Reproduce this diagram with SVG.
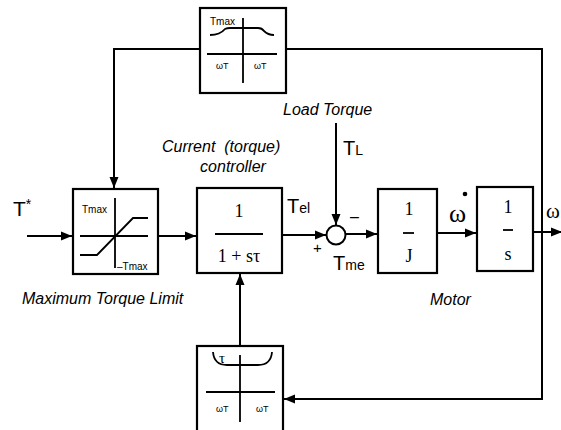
<svg xmlns="http://www.w3.org/2000/svg" width="561" height="430" viewBox="0 0 561 430">
<defs>
<marker id="ah" markerUnits="userSpaceOnUse" markerWidth="12" markerHeight="10" refX="11" refY="5" orient="auto">
<path d="M0,0.5 L11,5 L0,9.5 Z" fill="#000"/>
</marker>
<style>
.box{fill:#fff;stroke:#000;stroke-width:2.2}
.ln{fill:none;stroke:#000;stroke-width:2}
.thin{fill:none;stroke:#000;stroke-width:1.8}
.lbl{font-family:"Liberation Sans",Arial,sans-serif;font-style:italic;font-size:16px;fill:#000;white-space:pre}
.sans{font-family:"Liberation Sans",Arial,sans-serif;fill:#000}
.serif{font-family:"Liberation Serif","Times New Roman",serif;fill:#000}
.tiny{font-family:"Liberation Sans",Arial,sans-serif;font-size:9px;fill:#000}
</style>
</defs>
<g id="connectors">
<path class="ln" d="M542,232 V49 H286"/>
<path class="ln" d="M200,49 H114 V188" marker-end="url(#ah)"/>
<path class="ln" d="M27,236 H72" marker-end="url(#ah)"/>
<path class="ln" d="M158,236 H196" marker-end="url(#ah)"/>
<path class="ln" d="M282,235 H326" marker-end="url(#ah)"/>
<path class="ln" d="M336,123 V225" marker-end="url(#ah)"/>
<path class="ln" d="M346,234 H377" marker-end="url(#ah)"/>
<path class="ln" d="M437,233 H476" marker-end="url(#ah)"/>
<path class="ln" d="M533,232 H562" marker-end="url(#ah)"/>
<path class="ln" d="M542,232 V399 H284" marker-end="url(#ah)"/>
<path class="ln" d="M240,346 V274" marker-end="url(#ah)"/>
</g>
<g id="top_limit">
<rect class="box" x="200" y="8" width="86" height="85"/>
<path class="thin" d="M207,54 H277 M243,18 V83"/>
<path class="thin" d="M210,35 Q220,35 225,29 Q227,28 230,28 H258 Q262,28 264,31 Q268,35 274,35"/>
<text class="sans" x="210" y="25" font-size="10">Tmax</text>
<text class="tiny" x="216" y="69">ωT</text>
<text class="tiny" x="254" y="69">ωT</text>
</g>
<g id="input_label">
<text class="sans" x="13" y="216" font-size="21">T<tspan font-size="14" dy="-7">*</tspan></text>
</g>
<g id="max_limiter">
<rect class="box" x="73" y="189" width="85" height="85"/>
<path class="thin" d="M80,236 H148 M115,198 V268"/>
<path class="thin" d="M80,255 H97 L133,218 H148" stroke-width="2"/>
<text class="sans" x="82" y="213" font-size="10">Tmax</text>
<text class="sans" x="117" y="270" font-size="10">–Tmax</text>
<text class="lbl" x="22" y="304">Maximum Torque Limit</text>
</g>
<g id="controller">
<rect class="box" x="197" y="188" width="85" height="85"/>
<text class="serif" x="239" y="217" text-anchor="middle" font-size="18">1</text>
<path class="thin" d="M215,234 H263"/>
<text class="serif" x="239" y="262" text-anchor="middle" font-size="18">1 + sτ</text>
<text class="lbl" x="162" y="152">Current  (torque)</text>
<text class="lbl" x="233" y="172" text-anchor="middle">controller</text>
<text class="sans" x="287" y="213" font-size="20">T<tspan font-size="14">el</tspan></text>
</g>
<g id="summer">
<circle cx="336" cy="235" r="9.5" fill="#fff" stroke="#000" stroke-width="2"/>
<text class="sans" x="350" y="222" font-size="16">–</text>
<text class="sans" x="313" y="253" font-size="15">+</text>
<text class="sans" x="333" y="270" font-size="20">T<tspan font-size="14">me</tspan></text>
<text class="lbl" x="283" y="115">Load Torque</text>
<text class="sans" x="343" y="155" font-size="20">T<tspan font-size="14">L</tspan></text>
</g>
<g id="inertia">
<rect class="box" x="378" y="189" width="59" height="84"/>
<text class="serif" x="409" y="215" text-anchor="middle" font-size="18">1</text>
<path class="thin" d="M403,233 H414"/>
<text class="serif" x="409" y="262" text-anchor="middle" font-size="18">J</text>
<text class="serif" x="449" y="222" font-size="26">ω</text>
<circle cx="465" cy="194" r="2.3" fill="#000"/>
<text class="lbl" x="430" y="305">Motor</text>
</g>
<g id="integrator">
<rect class="box" x="477" y="187" width="56" height="84"/>
<text class="serif" x="508" y="213" text-anchor="middle" font-size="18">1</text>
<path class="thin" d="M503,230 H513"/>
<text class="serif" x="508" y="260" text-anchor="middle" font-size="18">s</text>
<text class="serif" x="546" y="218" font-size="21">ω</text>
</g>
<g id="tau_schedule">
<rect class="box" x="197" y="346" width="86" height="86"/>
<path class="thin" d="M206,392 H275 M240,355 V422"/>
<path class="thin" d="M213,352 Q214,365 227,365 H258 Q271,365 272,352"/>
<text class="serif" x="219" y="363" font-size="15">τ</text>
<text class="tiny" x="216" y="412">ωT</text>
<text class="tiny" x="256" y="412">ωT</text>
</g>
</svg>
